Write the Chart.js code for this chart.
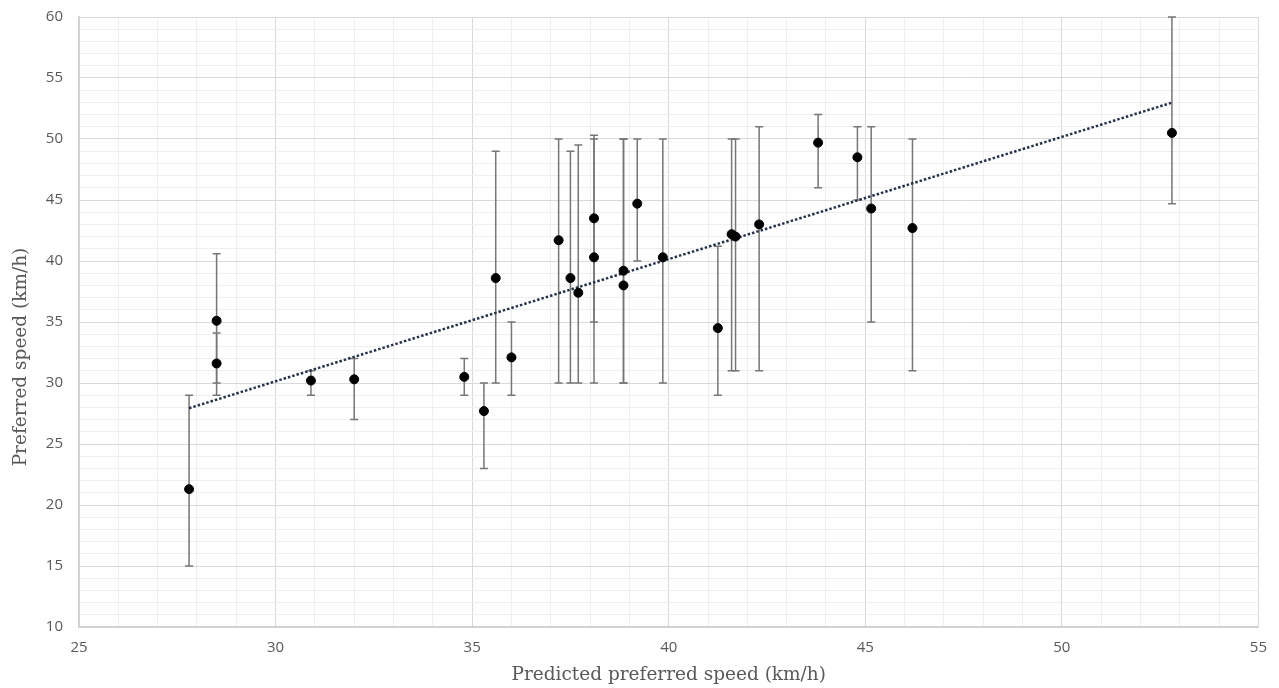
<!DOCTYPE html>
<html>
<head>
<meta charset="utf-8">
<title>Preferred speed</title>
<script src="https://cdn.jsdelivr.net/npm/chart.js@4/dist/chart.umd.min.js"></script>
<style>
  html, body { margin: 0; padding: 0; background: #fff; }
  canvas { display: block; }
</style>
</head>
<body>
<canvas id="speed-chart" width="1279" height="688"></canvas>
<script>
'use strict';

// predicted vs. reported preferred speed (km/h), one entry per rider
const predicted = [27.8, 28.5, 28.5, 30.9, 32.0, 34.8, 35.3, 35.6, 36.0, 37.2, 37.5, 37.7, 38.1, 38.1,
                   38.85, 38.85, 39.2, 39.85, 41.25, 41.6, 41.7, 42.3, 43.8, 44.8, 45.15, 46.2, 52.8];
const preferred = [21.3, 35.1, 31.6, 30.2, 30.3, 30.5, 27.7, 38.6, 32.1, 41.7, 38.6, 37.4, 43.5, 40.3,
                   39.2, 38.0, 44.7, 40.3, 34.5, 42.2, 42.0, 43.0, 49.7, 48.5, 44.3, 42.7, 50.5];
// range of each rider's speeds (bar ends)
const rangeLow  = [15, 30, 29, 29, 27, 29, 23, 30, 29, 30, 30, 30, 35, 30,
                   30, 30, 40, 30, 29, 31, 31, 31, 46, 45, 35, 31, 44.7];
const rangeHigh = [29, 40.6, 34.1, 31, 32, 32, 30, 49, 35, 50, 49, 49.5, 50.3, 50,
                   50, 50, 50, 50, 41.2, 50, 50, 51, 52, 51, 51, 50, 60];

const xTicks = [25, 30, 35, 40, 45, 50, 55];
const yTicks = [10, 15, 20, 25, 30, 35, 40, 45, 50, 55, 60];

const X_TITLE = 'Predicted preferred speed (km/h)';
const Y_TITLE = 'Preferred speed (km/h)';

const GREY_TEXT = '#595959';
const TITLE_FONT = { family: 'DejaVu Serif', size: 18.5 };

// least-squares fit, drawn between the smallest and largest prediction
function _trend(xs, ys) {
  const n = xs.length;
  const mx = xs.reduce((a, b) => a + b, 0) / n;
  const my = ys.reduce((a, b) => a + b, 0) / n;
  let sxy = 0, sxx = 0;
  xs.forEach((x, i) => { sxy += (x - mx) * (ys[i] - my); sxx += (x - mx) * (x - mx); });
  const k = sxy / sxx;
  const b = my - k * mx;
  const x0 = Math.min(...xs), x1 = Math.max(...xs);
  return [{ x: x0, y: k * x0 + b }, { x: x1, y: k * x1 + b }];
}

const errorBars = {
  id: 'errorBars',
  beforeDatasetsDraw(chart) {
    const { ctx, scales: { x, y } } = chart;
    ctx.save();
    ctx.strokeStyle = '#767676';
    ctx.lineWidth = 1.5;
    predicted.forEach((v, i) => {
      const px = x.getPixelForValue(v);
      const top = y.getPixelForValue(rangeHigh[i]);
      const bot = y.getPixelForValue(rangeLow[i]);
      ctx.beginPath();
      ctx.moveTo(px, top); ctx.lineTo(px, bot);
      ctx.moveTo(px - 4, top); ctx.lineTo(px + 4, top);
      ctx.moveTo(px - 4, bot); ctx.lineTo(px + 4, bot);
      ctx.stroke();
    });
    ctx.restore();
  }
};

// vertical axis title sits a little below the middle of the plot
const yTitle = {
  id: 'yTitle',
  afterDraw(chart) {
    const { ctx, chartArea } = chart;
    ctx.save();
    ctx.translate(21, (chartArea.top + chartArea.bottom) / 2 + 35);
    ctx.rotate(-Math.PI / 2);
    ctx.font = `${TITLE_FONT.size}px "${TITLE_FONT.family}"`;
    ctx.fillStyle = GREY_TEXT;
    ctx.textAlign = 'center';
    ctx.textBaseline = 'middle';
    ctx.fillText(Y_TITLE, 0, 0);
    ctx.restore();
  }
};

const gridColor = ctx => (ctx.tick && ctx.tick.value % 5 === 0) ? '#d9d9d9' : '#efefef';
const tickLabel = list => v => list.includes(v) ? String(v) : '';

new Chart(document.getElementById('speed-chart'), {
  data: {
    datasets: [
      {
        type: 'scatter',
        data: predicted.map((v, i) => ({ x: v, y: preferred[i] })),
        backgroundColor: '#000',
        borderColor: '#000',
        pointRadius: 4.5,
        pointHoverRadius: 4.5,
        order: 0
      },
      {
        type: 'line',
        data: _trend(predicted, preferred),
        borderColor: '#27314a',
        borderWidth: 2.5,
        borderDash: [2.5, 2],
        pointRadius: 0,
        fill: false,
        order: 1
      }
    ]
  },
  options: {
    responsive: false,
    animation: false,
    layout: { padding: { top: 17, right: 20, left: 0, bottom: 0 } },
    plugins: { legend: { display: false }, tooltip: { enabled: false } },
    scales: {
      x: {
        type: 'linear',
        min: 25, max: 55,
        afterFit: s => { s.height = 61; },
        grid: { color: gridColor, drawTicks: false, lineWidth: 1 },
        border: { color: '#cfcfcf', width: 1.5 },
        ticks: {
          stepSize: 1, autoSkip: false, maxRotation: 0, padding: 12,
          color: GREY_TEXT, font: { family: 'Open Sans', size: 15 },
          callback: tickLabel(xTicks)
        },
        title: {
          display: true, text: X_TITLE,
          color: GREY_TEXT, font: TITLE_FONT,
          padding: { top: 0, bottom: 2 }
        }
      },
      y: {
        type: 'linear',
        min: 10, max: 60,
        afterFit: s => { s.width = 79; s.paddingTop = 0; s.paddingBottom = 0; },
        grid: { color: gridColor, drawTicks: false, lineWidth: 1 },
        border: { color: '#cfcfcf', width: 1.5 },
        ticks: {
          stepSize: 1, autoSkip: false, padding: 16,
          color: GREY_TEXT, font: { family: 'Open Sans', size: 15 },
          callback: tickLabel(yTicks)
        },
        title: { display: false }
      }
    }
  },
  plugins: [errorBars, yTitle]
});
</script>
</body>
</html>
